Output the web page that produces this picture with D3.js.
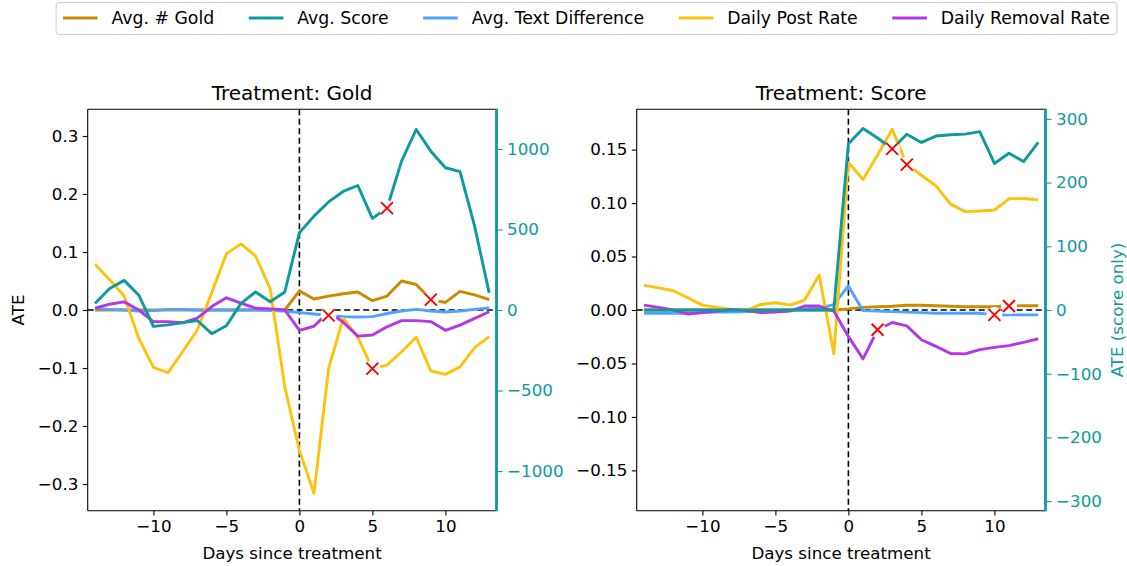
<!DOCTYPE html>
<html><head><meta charset="utf-8">
<script src="https://cdn.jsdelivr.net/npm/d3@7"></script>
<style>
body{margin:0;background:#fff}
text{font-family:"DejaVu Sans",sans-serif}
</style>
</head><body>
<svg id="c" width="1127" height="566"></svg>
<script>
// ---------- data ----------
const days = [-14,-13,-12,-11,-10,-9,-8,-7,-6,-5,-4,-3,-2,-1,0,1,2,3,4,5,6,7,8,9,10,11,12,13];
const seriesNames = ["Avg. # Gold","Avg. Score","Avg. Text Difference","Daily Post Rate","Daily Removal Rate"];
const seriesColors = ["#cc8a00","#0d9a9c","#4da3ff","#ffc20a","#b535e8"];

// Treatment: Gold
const goldTreat_avgGold = [0,0,0,0,0,0,0,0,0,0,0,0,0,0,0.033,0.019,0.024,0.028,0.031,0.016,0.024,0.050,0.044,0.018,0.013,0.032,0.026,0.018];
const goldTreat_avgScore = [41,133,184,92,-102,-92,-78,-65,-147,-98,41,112,51,112,480,583,671,736,773,569,632,924,1121,986,883,859,521,106];
const goldTreat_textDiff = [0.002,0.001,0,-0.002,-0.001,0.001,0.001,0,0,0,0,0,-0.001,-0.002,-0.0046,-0.007,-0.0092,-0.0115,-0.012,-0.0115,-0.006,-0.0017,0.001,-0.0017,-0.0035,-0.0017,0.001,0.0035];
const goldTreat_postRate = [0.079,0.052,0.024,-0.049,-0.099,-0.108,-0.072,-0.035,0.03,0.097,0.114,0.093,0.037,-0.133,-0.242,-0.316,-0.101,-0.014,-0.047,-0.101,-0.095,-0.072,-0.047,-0.105,-0.111,-0.098,-0.065,-0.046];
const goldTreat_removalRate = [0.003,0.01,0.014,0,-0.02,-0.02,-0.022,-0.014,0.006,0.021,0.012,0.003,0.002,0,-0.035,-0.028,-0.003,-0.021,-0.045,-0.043,-0.029,-0.0184,-0.0184,-0.020,-0.035,-0.026,-0.0144,-0.003];
const goldTreat_flagSeries = ["Avg. Text Difference","Daily Post Rate","Avg. Score","Avg. # Gold"];
const goldTreat_flagDays = [2,5,6,9];
const goldTreat_yTicks = [-0.3,-0.2,-0.1,0,0.1,0.2,0.3];
const goldTreat_y2Ticks = [-1000,-500,0,500,1000];

// Treatment: Score
const scoreTreat_avgGold = [0,0,0,0,0,0,0,0,0,0,0,0,0,0,0.001,0.0025,0.003,0.0035,0.0045,0.0045,0.004,0.0035,0.003,0.003,0.003,0.0037,0.004,0.004];
const scoreTreat_avgScore = [0,0,0,0,0,0,0,0,0,0,0,0,0,0,261,285,270,253,276,263,273,275,276,280,230,246,233,263];
const scoreTreat_textDiff = [-0.003,-0.003,-0.003,-0.003,-0.0025,-0.002,-0.002,-0.0015,-0.001,-0.001,0,0.001,0.002,0.005,0.0225,-0.0006,-0.001,-0.0015,-0.002,-0.0025,-0.003,-0.003,-0.003,-0.003,-0.0046,-0.0046,-0.0046,-0.0046];
const scoreTreat_postRate = [0.023,0.0207,0.018,0.0114,0.0046,0.0025,0.0006,-0.0006,0.0052,0.0068,0.0046,0.0093,0.0324,-0.0407,0.138,0.122,0.145,0.169,0.136,0.126,0.116,0.099,0.092,0.0926,0.0935,0.104,0.1043,0.103];
const scoreTreat_removalRate = [0.0046,0.0025,0,-0.0037,-0.0025,-0.001,0.0006,-0.0006,-0.0025,-0.0019,-0.001,0.0037,0.0037,-0.001,-0.0247,-0.0457,-0.0185,-0.0117,-0.0148,-0.0278,-0.034,-0.0407,-0.041,-0.037,-0.0349,-0.0333,-0.0302,-0.0269];
const scoreTreat_flagSeries = ["Avg. Score","Daily Post Rate","Daily Removal Rate","Avg. Text Difference","Avg. # Gold"];
const scoreTreat_flagDays = [3,4,2,10,11];
const scoreTreat_yTicks = [-0.15,-0.10,-0.05,0,0.05,0.10,0.15];
const scoreTreat_y2Ticks = [-300,-200,-100,0,100,200,300];

const xTicks = [-10,-5,0,5,10];

// ---------- layout ----------
const svg = d3.select("#c");
const TOP = 109.3, BOT = 510.7, PW = 408.8;
const teal = seriesColors[1];
const FS = 16.7;

const panels = [
  {title:"Treatment: Gold", left:87.7, yMax:0.346, y2Max:1246, fmt:d3.format(".1f"),
   yTicks:goldTreat_yTicks, y2Ticks:goldTreat_y2Ticks, ylabel:"ATE", y2label:null,
   series:[goldTreat_avgGold,goldTreat_avgScore,goldTreat_textDiff,goldTreat_postRate,goldTreat_removalRate],
   flagSeries:goldTreat_flagSeries, flagDays:goldTreat_flagDays},
  {title:"Treatment: Score", left:636.7, yMax:0.1877, y2Max:315, fmt:d3.format(".2f"),
   yTicks:scoreTreat_yTicks, y2Ticks:scoreTreat_y2Ticks, ylabel:null, y2label:"ATE (score only)",
   series:[scoreTreat_avgGold,scoreTreat_avgScore,scoreTreat_textDiff,scoreTreat_postRate,scoreTreat_removalRate],
   flagSeries:scoreTreat_flagSeries, flagDays:scoreTreat_flagDays}
];

panels.forEach((p,pi)=>{
  const L = p.left, R = p.left + PW;
  const x = d3.scaleLinear().domain([-14.5,13.5]).range([L,R]);
  const y = d3.scaleLinear().domain([-p.yMax,p.yMax]).range([BOT,TOP]);
  const y2 = d3.scaleLinear().domain([-p.y2Max,p.y2Max]).range([BOT,TOP]);
  const g = svg.append("g");
  const clipId = "clip"+pi;
  svg.append("clipPath").attr("id",clipId).append("rect")
    .attr("x",L).attr("y",TOP).attr("width",PW).attr("height",BOT-TOP);
  const plot = g.append("g").attr("clip-path",`url(#${clipId})`);

  // reference dashed lines
  plot.append("line").attr("x1",x(0)).attr("x2",x(0)).attr("y1",TOP).attr("y2",BOT)
    .attr("stroke","#000").attr("stroke-width",1.6).attr("stroke-dasharray","6,3.5");
  plot.append("line").attr("x1",L).attr("x2",R).attr("y1",y(0)).attr("y2",y(0))
    .attr("stroke","#000").attr("stroke-width",1.6).attr("stroke-dasharray","6,3.5");

  // primary lines (index 0,2,3,4), then score (1) on twin axis
  const order = [0,2,3,4,1];
  order.forEach(si=>{
    const sc = si===1 ? y2 : y;
    const line = d3.line().x((d,i)=>x(days[i])).y(d=>sc(d));
    plot.append("path").datum(p.series[si]).attr("d",line)
      .attr("fill","none").attr("stroke",seriesColors[si]).attr("stroke-width",2.9)
      .attr("stroke-linejoin","round").attr("stroke-linecap","butt");
  });

  // flagged points: halo + red x
  const flags = p.flagDays.map((d,k)=>{
    const si = seriesNames.indexOf(p.flagSeries[k]);
    const idx = days.indexOf(d);
    const sc = si===1 ? y2 : y;
    return {cx:x(d), cy:sc(p.series[si][idx])};
  });
  plot.selectAll("circle.halo").data(flags).enter().append("circle")
    .attr("cx",d=>d.cx).attr("cy",d=>d.cy).attr("r",8).attr("fill","#fff");
  const m = 6;
  flags.forEach(f=>{
    plot.append("path")
      .attr("d",`M${f.cx-m},${f.cy-m}L${f.cx+m},${f.cy+m}M${f.cx-m},${f.cy+m}L${f.cx+m},${f.cy-m}`)
      .attr("stroke","#ff0000").attr("stroke-width",1.9).attr("fill","none");
  });

  // spines
  g.append("line").attr("x1",L).attr("x2",L).attr("y1",TOP).attr("y2",BOT).attr("stroke","#000").attr("stroke-width",1.1);
  g.append("line").attr("x1",L).attr("x2",R).attr("y1",TOP).attr("y2",TOP).attr("stroke","#000").attr("stroke-width",1.1);
  g.append("line").attr("x1",L).attr("x2",R).attr("y1",BOT).attr("y2",BOT).attr("stroke","#000").attr("stroke-width",1.1);
  g.append("line").attr("x1",R).attr("x2",R).attr("y1",TOP-0.5).attr("y2",BOT+0.5).attr("stroke",teal).attr("stroke-width",2.8);

  // axes
  const ax = g.append("g").attr("transform",`translate(0,${BOT})`)
    .call(d3.axisBottom(x).tickValues(xTicks).tickFormat(d3.format("d")).tickSize(4.9).tickPadding(4.5).tickSizeOuter(0));
  const ay = g.append("g").attr("transform",`translate(${L},0)`)
    .call(d3.axisLeft(y).tickValues(p.yTicks).tickFormat(p.fmt).tickSize(4.9).tickPadding(4.5).tickSizeOuter(0));
  const ay2 = g.append("g").attr("transform",`translate(${R+1.2},0)`)
    .call(d3.axisRight(y2).tickValues(p.y2Ticks).tickFormat(d3.format("d")).tickSize(4.9).tickPadding(4.5).tickSizeOuter(0));
  [ax,ay,ay2].forEach(a=>{
    a.select(".domain").remove();
    a.selectAll("text").attr("font-size",FS).attr("font-family","DejaVu Sans");
    a.selectAll("line").attr("stroke-width",1.1);
  });
  ax.selectAll("text").attr("fill","#000");
  ay.selectAll("text").attr("fill","#000");
  ax.selectAll("line").attr("stroke","#000");
  ay.selectAll("line").attr("stroke","#000");
  ay2.selectAll("text").attr("fill",teal);
  ay2.selectAll("line").attr("stroke",teal);

  // labels
  g.append("text").attr("x",(L+R)/2).attr("y",100).attr("text-anchor","middle")
    .attr("font-size",20).text(p.title);
  g.append("text").attr("x",(L+R)/2).attr("y",559).attr("text-anchor","middle")
    .attr("font-size",FS).text("Days since treatment");
  if (p.ylabel) {
    g.append("text").attr("transform",`translate(24,${(TOP+BOT)/2}) rotate(-90)`)
      .attr("text-anchor","middle").attr("font-size",FS).text(p.ylabel);
  }
  if (p.y2label) {
    g.append("text").attr("transform",`translate(1122.5,${(TOP+BOT)/2}) rotate(-90)`)
      .attr("text-anchor","middle").attr("font-size",FS).attr("fill",teal).text(p.y2label);
  }
});

// ---------- legend ----------
const em = 17.3;
const lg = svg.append("g");
const frame = lg.append("rect");
let cx = 0.4*em;
seriesNames.forEach((name,i)=>{
  lg.append("line").attr("x1",cx).attr("x2",cx+2.0*em).attr("y1",18).attr("y2",18)
    .attr("stroke",seriesColors[i]).attr("stroke-width",2.9);
  cx += 2.0*em + 0.8*em;
  const t = lg.append("text").attr("x",cx).attr("y",18).attr("dy","0.35em")
    .attr("font-size",em).text(name);
  cx += t.node().getComputedTextLength();
  if (i < seriesNames.length-1) cx += 2*em;
});
cx += 0.4*em;
frame.attr("x",0).attr("y",2.5).attr("width",cx).attr("height",32).attr("rx",3)
  .attr("fill","#fff").attr("stroke","#cccccc").attr("stroke-width",1);
lg.attr("transform",`translate(${586.5 - cx/2},0)`);
</script>
</body></html>
